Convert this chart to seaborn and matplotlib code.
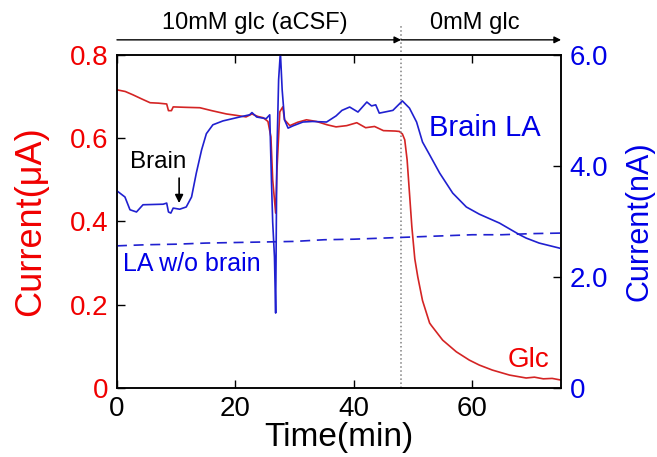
import numpy as np
import seaborn as sns
import matplotlib.pyplot as plt

# glucose trace (left axis, uA)
t_glc = [0, 1.4, 2.7, 4.2, 5.6, 7.0, 8.4, 8.7, 9.2, 9.5, 11.5, 14.0, 16.0,
         18.5, 20.0, 21.8, 22.8, 23.8, 24.7, 25.5, 26.0, 26.3, 26.8, 27.0,
         27.5, 28.0, 28.3, 29.2, 30.5, 32.0, 33.7, 35.5, 37.0, 38.8, 40.5,
         42.0, 43.5, 45.0, 47.0, 47.7, 48.2, 48.6, 49.0, 49.4, 49.8, 50.3,
         50.8, 51.6, 52.8, 53.1, 55.0, 57.3, 59.5, 61.2, 63.4, 66.3, 69.1,
         70.5, 72.0, 73.5, 75.0]
glc = [0.716, 0.712, 0.704, 0.694, 0.685, 0.684, 0.682, 0.666, 0.666, 0.675,
       0.674, 0.673, 0.666, 0.658, 0.655, 0.651, 0.658, 0.652, 0.649, 0.640,
       0.603, 0.50, 0.42, 0.517, 0.663, 0.675, 0.644, 0.630, 0.638, 0.644,
       0.640, 0.632, 0.627, 0.630, 0.637, 0.625, 0.628, 0.618, 0.617, 0.616,
       0.610, 0.596, 0.548, 0.468, 0.387, 0.31, 0.267, 0.21, 0.156, 0.150,
       0.115, 0.087, 0.067, 0.055, 0.043, 0.031, 0.024, 0.026, 0.022, 0.023,
       0.019]

# lactate trace with brain (right axis, nA)
t_la = [0, 1.35, 2.2, 3.3, 4.4, 7.8, 8.4, 8.7, 9.1, 9.5, 10.6, 11.7, 12.6,
        13.4, 14.3, 15.1, 16.2, 17.9, 20.7, 22.4, 22.8, 23.6, 25.2, 25.8,
        26.1, 26.3, 26.6, 26.8, 27.0, 27.3, 27.6, 27.9, 28.3, 28.9, 29.7,
        31.4, 33.0, 35.4, 37.0, 38.0, 39.3, 40.7, 42.2, 43.0, 43.7, 44.3,
        46.6, 48.2, 49.4, 50.6, 51.6, 52.8, 54.5, 56.7, 59.0, 61.2, 64.6,
        68.0, 69.1, 71.3, 74.7, 75.0]
la = [3.55, 3.44, 3.21, 3.17, 3.30, 3.31, 3.33, 3.17, 3.15, 3.24, 3.22, 3.26,
      3.44, 3.87, 4.29, 4.58, 4.74, 4.81, 4.88, 4.92, 4.96, 4.88, 4.85, 4.92,
      3.70, 2.99, 2.36, 1.35, 4.16, 5.55, 6.05, 5.37, 4.83, 4.68, 4.72, 4.79,
      4.80, 4.79, 4.90, 5.00, 5.06, 4.97, 5.15, 5.08, 5.10, 4.95, 5.00, 5.17,
      5.04, 4.79, 4.43, 4.20, 3.87, 3.51, 3.26, 3.13, 2.97, 2.76, 2.70, 2.61,
      2.52, 2.51]

# lactate sensor without brain (right axis, nA)
t_ctrl = [0, 5, 10, 15, 20, 25, 30, 35, 40, 45, 50, 55, 60, 65, 70, 75]
ctrl = [2.56, 2.58, 2.59, 2.61, 2.62, 2.63, 2.64, 2.67, 2.68, 2.70, 2.72,
        2.74, 2.76, 2.76, 2.78, 2.79]

left_ticks = [0, 0.2, 0.4, 0.6, 0.8]
left_labels = ["0", "0.2", "0.4", "0.6", "0.8"]
right_ticks = [0, 2, 4, 6]
right_labels = ["0", "2.0", "4.0", "6.0"]
x_ticks = [0, 20, 40, 60]

t_switch = 48

sns.set_style("ticks")
plt.rcParams['font.family'] = ['Liberation Sans', 'DejaVu Sans']
plt.rcParams['text.color'] = 'black'
plt.rcParams['axes.labelcolor'] = 'black'
plt.rcParams['xtick.color'] = 'black'
plt.rcParams['ytick.color'] = 'black'

RED = "#d42424"
BLUE = "#2020d0"
RED_TXT = "#f00000"
BLUE_TXT = "#0000e6"

fig = plt.figure(figsize=(6.57, 4.57), dpi=100)
ax = fig.add_axes([0.178, 0.151, 0.676, 0.729])
ax2 = ax.twinx()

sns.lineplot(x=t_glc, y=glc, ax=ax, color=RED, linewidth=1.2)
sns.lineplot(x=t_la, y=la, ax=ax2, color=BLUE, linewidth=1.2)
sns.lineplot(x=t_ctrl, y=ctrl, ax=ax2, color=BLUE, linewidth=1.2,
             linestyle=(0, (6, 4)))

ax.set_xlim(0, 75)
ax.set_ylim(0, 0.8)
ax2.set_ylim(0, 6)

ax.set_xticks(x_ticks)
ax.set_yticks(left_ticks)
ax.set_yticklabels(left_labels)
ax2.set_yticks(right_ticks)
ax2.set_yticklabels(right_labels)

ax.tick_params(axis='x', direction='in', length=6, width=1, top=True,
               labelsize=20, labelcolor="black", pad=6)
ax.tick_params(axis='y', direction='in', length=6, width=1,
               labelsize=20, labelcolor=RED_TXT, pad=6)
ax2.tick_params(axis='y', direction='in', length=6, width=1,
                labelsize=20, labelcolor=BLUE_TXT, pad=6)

for a in (ax, ax2):
    for s in a.spines.values():
        s.set_color("black")
        s.set_linewidth(1.1)

ax.set_xlabel("Time(min)", fontsize=24, labelpad=0, color="black")
ax.set_ylabel("Current(μA)", fontsize=26, color=RED_TXT, labelpad=16)
ax2.set_ylabel("Current(nA)", fontsize=22, color=BLUE_TXT, labelpad=12)

# vertical dotted line at the switch
ax.plot([t_switch, t_switch], [0, 1.09], transform=ax.get_xaxis_transform(),
        color="gray", linestyle=":", linewidth=1.1, clip_on=False)

# top arrows with solution labels
ax.annotate("", xy=(t_switch, 1.045), xytext=(0, 1.045),
            xycoords=ax.get_xaxis_transform(),
            arrowprops=dict(arrowstyle="-|>", color="black", lw=1,
                            shrinkA=0, shrinkB=0, mutation_scale=10))
ax.annotate("", xy=(75, 1.045), xytext=(t_switch, 1.045),
            xycoords=ax.get_xaxis_transform(),
            arrowprops=dict(arrowstyle="-|>", color="black", lw=1,
                            shrinkA=0, shrinkB=0, mutation_scale=10))
ax.text(23.3, 1.095, "10mM glc (aCSF)", transform=ax.get_xaxis_transform(),
        ha="center", va="center", fontsize=17)
ax.text(60.4, 1.095, "0mM glc", transform=ax.get_xaxis_transform(),
        ha="center", va="center", fontsize=17)

# annotations inside plot
ax2.text(62.1, 4.68, "Brain LA", color=BLUE_TXT, fontsize=21,
         ha="center", va="center")
ax2.text(12.6, 2.23, "LA w/o brain", color=BLUE_TXT, fontsize=18,
         ha="center", va="center")
ax.text(69.5, 0.067, "Glc", color=RED_TXT, fontsize=20,
        ha="center", va="center")
ax2.text(7.0, 4.07, "Brain", color="black", fontsize=17.5,
         ha="center", va="center")
ax2.annotate("", xy=(10.5, 3.33), xytext=(10.5, 3.78),
             arrowprops=dict(arrowstyle="-|>", color="black", lw=1.2,
                             shrinkA=0, shrinkB=0, mutation_scale=12))

fig.savefig("out.png", dpi=100)
